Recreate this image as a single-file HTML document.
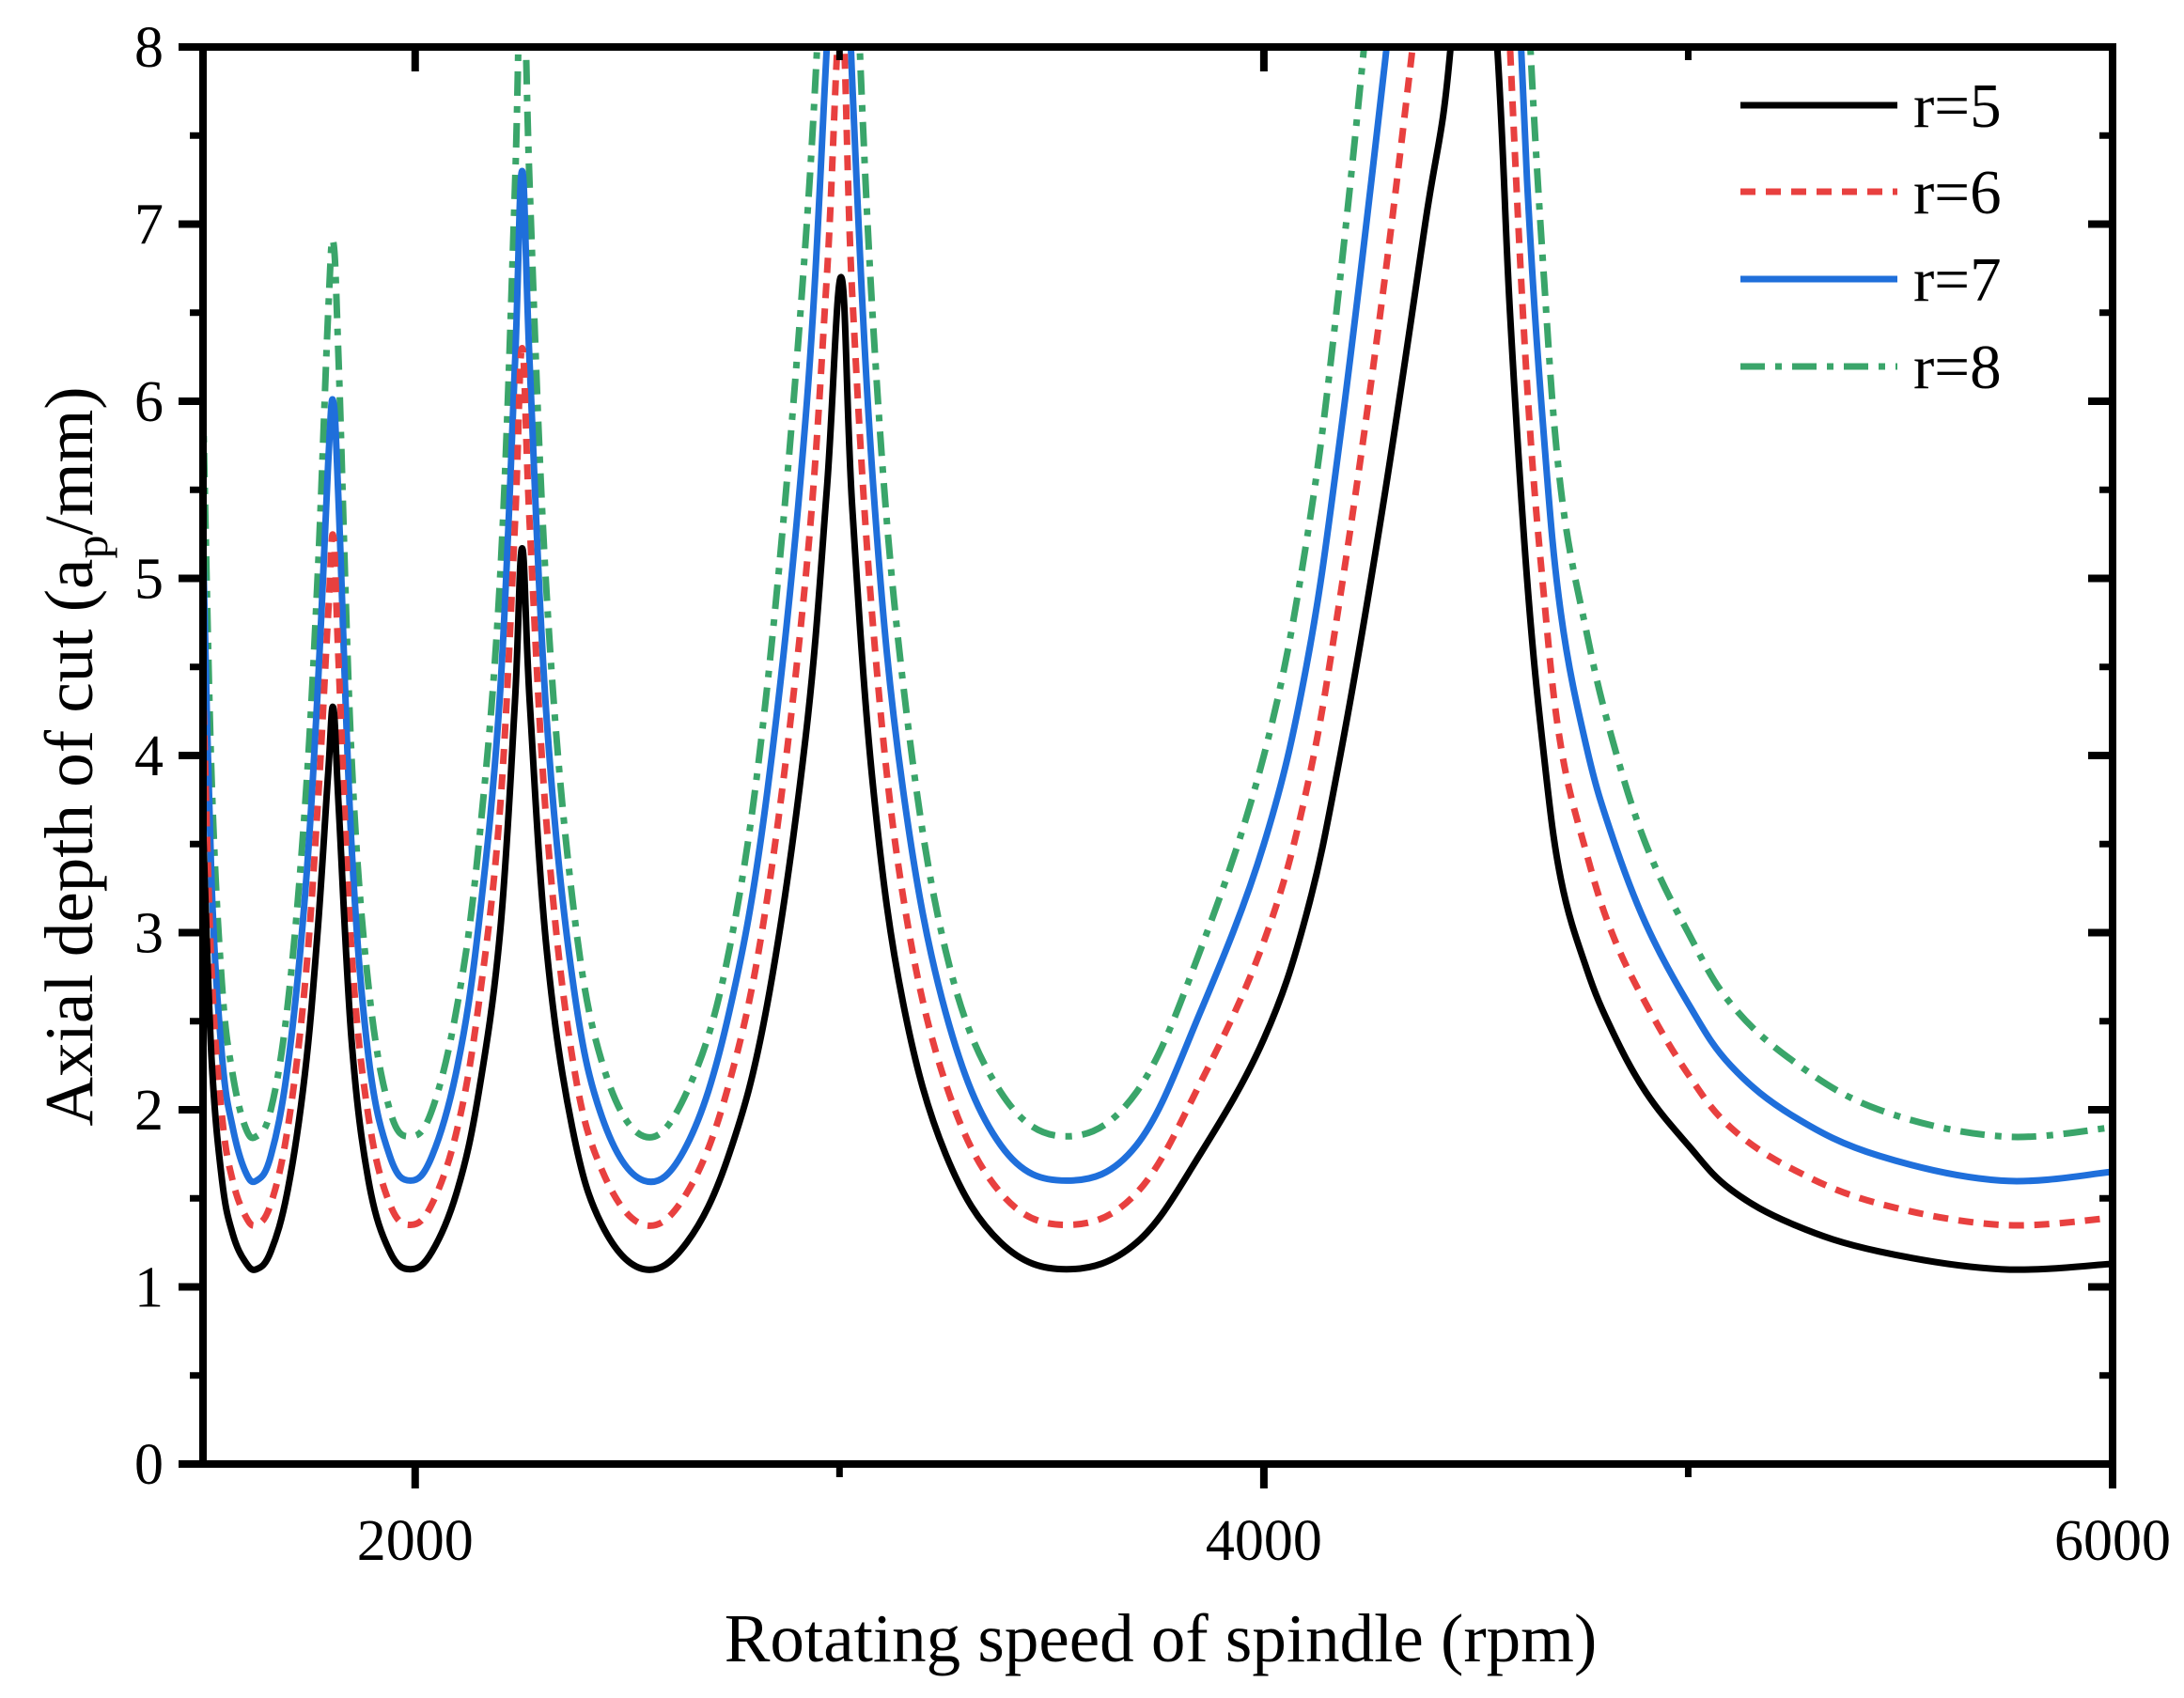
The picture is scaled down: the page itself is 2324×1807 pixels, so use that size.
<!DOCTYPE html>
<html><head><meta charset="utf-8"><style>
html,body{margin:0;padding:0;background:#fff;}
svg{display:block;}
text{font-family:"Liberation Serif",serif;fill:#000;}
</style></head><body>
<svg id="chart" width="2324" height="1807" viewBox="0 0 2324 1807" xmlns="http://www.w3.org/2000/svg">
<defs><clipPath id="plotclip"><rect x="216" y="50" width="2032" height="1508"/></clipPath></defs>
<g id="series" clip-path="url(#plotclip)"></g>
<g id="axes"></g>
<g id="legend"></g>
</svg>
<script>
const xTicks = [2000, 4000, 6000];
const xMinorTicks = [3000, 5000];
const yTicks = [0,1,2,3,4,5,6,7,8];
const rpm = [1500,1520,1545,1570,1600,1626,1660,1700,1740,1770,1795,1807,
1820,1850,1890,1940,1989,2040,2100,2150,2200,2235,2252,
2270,2310,2370,2440,2539,2640,2740,2830,2920,2970,3004,
3030,3080,3150,3250,3380,3535,3700,3850,4000,4100,4180,4280,4380,4440,4490,
4550,4580,4620,4660,4700,4760,4820,4900,5000,5100,5250,5450,5737,6000];
const r5 = [3.6,2.3,1.6,1.3,1.14,1.1,1.2,1.55,2.2,3.0,3.9,4.27,
3.7,2.4,1.6,1.2,1.1,1.2,1.55,2.1,3.0,4.3,5.17,
4.3,2.9,1.9,1.35,1.1,1.25,1.75,2.6,4.1,5.5,6.7,
5.4,3.8,2.6,1.75,1.25,1.1,1.25,1.75,2.4,3.1,4.0,5.4,7.0,8.0,10,
8.0,6.5,5.0,4.0,3.3,2.8,2.45,2.1,1.8,1.55,1.35,1.2,1.1,1.13];
const r6 = [4.4,2.8,1.96,1.6,1.4,1.35,1.47,1.9,2.7,3.7,4.8,5.24,
4.5,2.9,1.96,1.47,1.35,1.47,1.9,2.6,3.7,5.3,6.3,
5.3,3.6,2.3,1.66,1.35,1.53,2.15,3.2,5.0,6.7,8.2,
6.6,4.7,3.2,2.15,1.53,1.35,1.53,2.15,2.95,3.8,4.9,6.6,8.6,9.8,12,
9.8,8.0,6.1,4.9,4.05,3.45,3.0,2.6,2.2,1.9,1.66,1.47,1.35,1.39];
const r7 = [5.2,3.3,2.3,1.9,1.65,1.6,1.74,2.25,3.2,4.35,5.65,6.0,
5.4,3.5,2.3,1.74,1.6,1.74,2.25,3.05,4.35,6.2,7.3,
6.2,4.2,2.75,1.96,1.6,1.8,2.55,3.8,5.9,8.0,9.7,
7.8,5.5,3.8,2.55,1.8,1.6,1.8,2.55,3.5,4.5,5.8,7.8,10,11.6,14,
11.6,9.4,7.25,5.8,4.8,4.05,3.55,3.05,2.6,2.25,1.96,1.74,1.6,1.65];
const r8 = [6.0,3.9,2.7,2.2,1.9,1.85,2.0,2.6,3.7,5.0,6.5,6.9,
6.2,4.0,2.7,2.0,1.85,2.0,2.6,3.5,5.0,7.2,8.7,
7.2,4.9,3.2,2.27,1.85,2.1,2.9,4.4,6.9,9.2,11.3,
9.1,6.4,4.4,2.9,2.1,1.85,2.1,2.9,4.0,5.2,6.7,9.1,11.8,13.4,16.8,
13.4,10.9,8.4,6.7,5.5,4.7,4.1,3.5,3.0,2.6,2.27,2.0,1.85,1.9];
const seriesLabels = ["r=5","r=6","r=7","r=8"];

const NS = "http://www.w3.org/2000/svg";
const L=216,R=2248,T=50,B=1558, XMIN=1500, XMAX=6000, YMIN=0, YMAX=8;
function xs(v){return L+(v-XMIN)/(XMAX-XMIN)*(R-L);}
function ys(v){return B-(v-YMIN)/(YMAX-YMIN)*(B-T);}
function mk(tag,attrs,parent){const e=document.createElementNS(NS,tag);for(const k in attrs)e.setAttribute(k,attrs[k]);parent.appendChild(e);return e;}

const styles=[
 {stroke:"#000000",dash:""},
 {stroke:"#e8403f",dash:"16 11"},
 {stroke:"#1f6fdb",dash:""},
 {stroke:"#3aa56a",dash:"26 11 7 11"}];
const names=["series-r5","series-r6","series-r7","series-r8"];
const data=[r5,r6,r7,r8];

function pathFor(vals){
  const p=rpm.map((x,i)=>[xs(x),ys(vals[i])]);
  let d="M"+p[0][0]+","+p[0][1];
  for(let i=0;i<p.length-1;i++){
    const p0=p[i-1]||p[i],p1=p[i],p2=p[i+1],p3=p[i+2]||p2;
    const t=0.18;
    const c1=[p1[0]+(p2[0]-p0[0])*t,p1[1]+(p2[1]-p0[1])*t];
    const c2=[p2[0]-(p3[0]-p1[0])*t,p2[1]-(p3[1]-p1[1])*t];
    d+=" C"+c1[0].toFixed(1)+","+c1[1].toFixed(1)+" "+c2[0].toFixed(1)+","+c2[1].toFixed(1)+" "+p2[0].toFixed(1)+","+p2[1].toFixed(1);
  }
  return d;
}
const sg=document.getElementById("series");
for(let s=3;s>=0;s--){
  const el=mk("path",{d:pathFor(data[s]),fill:"none",stroke:styles[s].stroke,"stroke-width":"7","stroke-dasharray":styles[s].dash,"stroke-linejoin":"round"},sg);
  
  
}

const ax=document.getElementById("axes");
const frame=mk("rect",{x:L,y:T,width:R-L,height:B-T,fill:"none",stroke:"#000","stroke-width":"8"},ax);


yTicks.forEach(v=>{
  const y=ys(v);
  const t=mk("line",{x1:L-26,x2:L,y1:y,y2:y,stroke:"#000","stroke-width":"8"},ax);
  
  
  const t2=mk("line",{x1:R,x2:R-26,y1:y,y2:y,stroke:"#000","stroke-width":"8"},ax);
  
  
  if(v<YMAX){
    const ym=ys(v+0.5);
    const m=mk("line",{x1:L-14,x2:L,y1:ym,y2:ym,stroke:"#000","stroke-width":"7"},ax);
    
    
    const m2=mk("line",{x1:R,x2:R-14,y1:ym,y2:ym,stroke:"#000","stroke-width":"7"},ax);
    
    
  }
  const lb=mk("text",{x:L-42,y:y+21,"font-size":"62","text-anchor":"end"},ax);
  lb.textContent=v;
  
  
});
xTicks.forEach(v=>{
  const x=xs(v);
  const t=mk("line",{x1:x,x2:x,y1:B,y2:B+26,stroke:"#000","stroke-width":"8"},ax);
  
  
  const t2=mk("line",{x1:x,x2:x,y1:T,y2:T+26,stroke:"#000","stroke-width":"8"},ax);
  
  
  const lb=mk("text",{x:x,y:B+102,"font-size":"62","text-anchor":"middle"},ax);
  lb.textContent=v;
  
  
});
xMinorTicks.forEach(v=>{
  const x=xs(v);
  const t=mk("line",{x1:x,x2:x,y1:B,y2:B+14,stroke:"#000","stroke-width":"7"},ax);
  
  
  const t2=mk("line",{x1:x,x2:x,y1:T,y2:T+14,stroke:"#000","stroke-width":"7"},ax);
  
  
});
const xt=mk("text",{x:1235,y:1768,"font-size":"73","text-anchor":"middle"},ax);
xt.textContent="Rotating speed of spindle (rpm)";


const yt=mk("text",{x:0,y:0,"font-size":"73","text-anchor":"middle",transform:"translate(98,805) rotate(-90)"},ax);
yt.innerHTML='Axial depth of cut (a<tspan font-size="50" dy="16">p</tspan><tspan dy="-16">/mm)</tspan>';



const lg=document.getElementById("legend");
const legY=[112,204,297,390];
for(let s=0;s<4;s++){
  const l=mk("line",{x1:1852,x2:2019,y1:legY[s],y2:legY[s],stroke:styles[s].stroke,"stroke-width":"7","stroke-dasharray":styles[s].dash},lg);
  
  
  const tx=mk("text",{x:2036,y:legY[s]+23,"font-size":"67"},lg);
  tx.textContent=seriesLabels[s];
  
  
}
</script>
</body></html>
